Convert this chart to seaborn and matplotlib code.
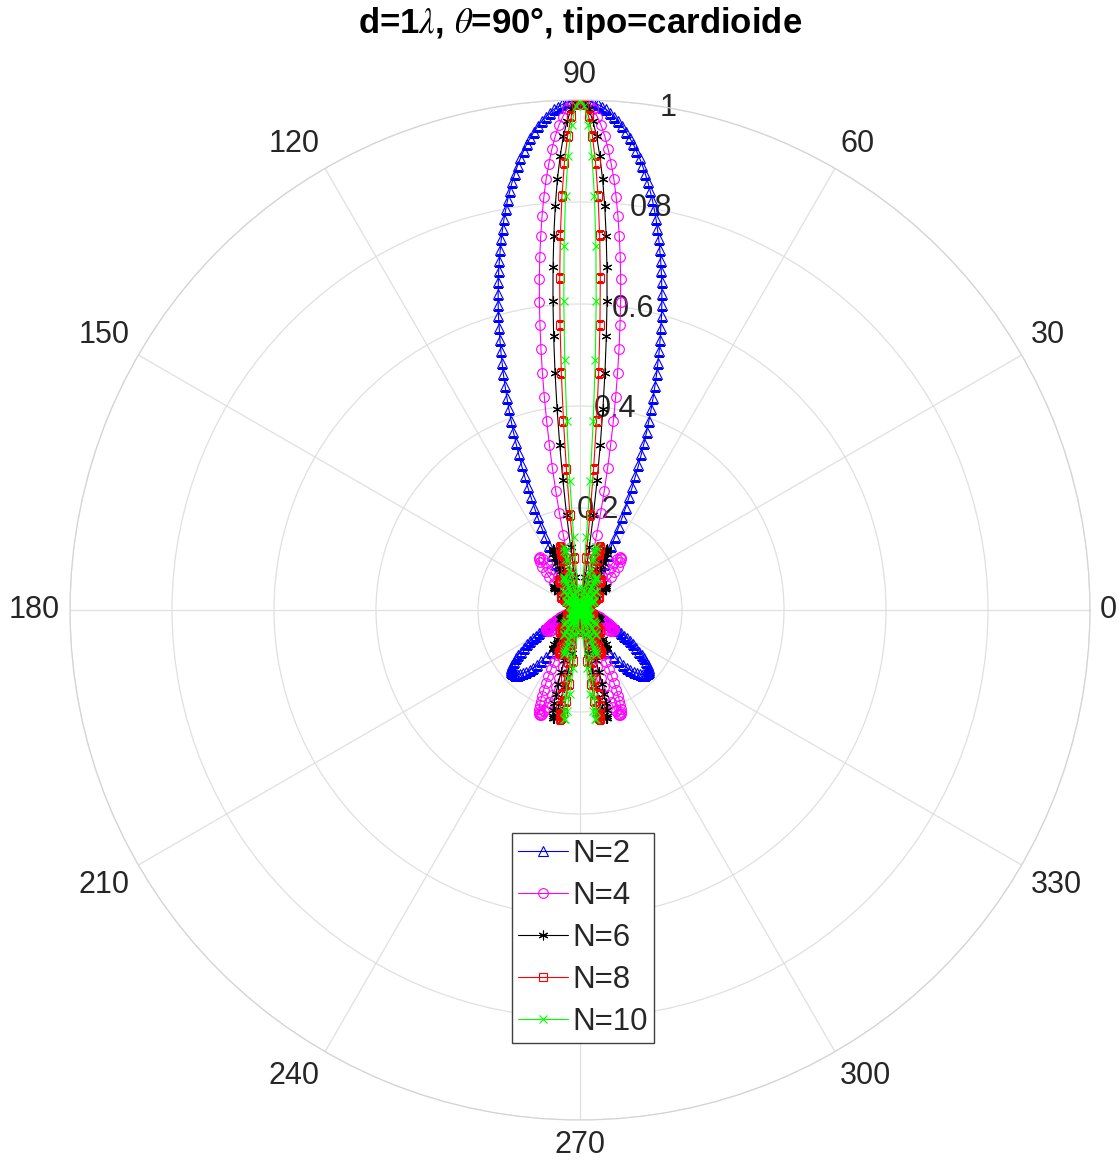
import numpy as np
import pandas as pd
import matplotlib
matplotlib.use("Agg")
import matplotlib.pyplot as plt
import seaborn as sns

sns.set_theme(style="white")
plt.rcParams["font.family"] = ["Liberation Sans", "DejaVu Sans"]
plt.rcParams["mathtext.fontset"] = "stix"

# ---------------- data ----------------
# sample angles (deg) of the right half, from the main-lobe direction (90) down to 0
ALPHA_DEG = [90.0, 89.5, 89.0, 88.5, 88.0, 87.5, 87.0, 86.5, 86.0, 85.5,
             85.0, 84.5, 84.0, 83.5, 83.0, 82.5, 82.0, 81.5, 81.0, 80.5,
             80.0, 79.5, 79.0, 78.5, 78.0, 77.5, 77.0, 76.5, 76.0, 75.5,
             75.0, 74.5, 74.0, 73.5, 73.0, 72.5, 72.0, 71.5, 71.0, 70.5,
             70.0, 69.5, 69.0, 68.5, 68.0, 67.5, 67.0, 66.5, 66.0, 65.5,
             65.0, 64.5, 64.0, 63.5, 63.0, 62.5, 62.0, 61.5, 61.0, 60.5,
             60.0,
             59, 58, 57, 56, 55, 54, 53, 52, 51, 50,
             49, 48, 47, 46, 45, 44, 43, 42, 41, 40,
             39, 38, 37, 36, 35, 34, 33, 32, 31, 30,
             29, 28, 27, 26, 25, 24, 23, 22, 21, 20,
             19, 18, 17, 16, 15, 14, 13, 12, 11, 10,
             9, 8, 7, 6, 5, 4, 3, 2, 1, 0]

# signed pattern values: positive -> drawn at the angle, negative -> drawn
# on the rear side (mirror below the 0-180 line); the figure is left/right symmetric
N2 = [1.000, 0.999, 0.998, 0.996, 0.992, 0.988, 0.983, 0.976, 0.969, 0.961,
      0.952, 0.942, 0.931, 0.920, 0.907, 0.894, 0.880, 0.865, 0.850, 0.833,
      0.817, 0.799, 0.781, 0.762, 0.743, 0.723, 0.703, 0.683, 0.662, 0.641,
      0.620, 0.598, 0.575, 0.553, 0.531, 0.508, 0.486, 0.463, 0.440, 0.418,
      0.395, 0.373, 0.350, 0.328, 0.306, 0.284, 0.263, 0.241, 0.220, 0.200,
      0.179, 0.159, 0.140, 0.121, 0.102, 0.084, 0.066, 0.049, 0.032, 0.016,
      0.000,
      -0.024, -0.046, -0.066, -0.084, -0.100, -0.114, -0.126, -0.137, -0.146, -0.154,
      -0.161, -0.167, -0.172, -0.176, -0.179, -0.181, -0.182, -0.181, -0.179, -0.176,
      -0.171, -0.165, -0.158, -0.150, -0.142, -0.133, -0.124, -0.116, -0.108, -0.100,
      -0.092, -0.084, -0.077, -0.070, -0.063, -0.057, -0.051, -0.045, -0.040, -0.035,
      -0.030, -0.026, -0.022, -0.019, -0.016, -0.013, -0.011, -0.009, -0.007, -0.005,
      -0.004, -0.003, -0.002, -0.001, -0.001, 0.0, 0.0, 0.0, 0.0, 0.0]

N4 = [1.000, 0.998, 0.992, 0.982, 0.968, 0.951, 0.930, 0.905, 0.877, 0.847,
      0.813, 0.776, 0.737, 0.697, 0.654, 0.610, 0.564, 0.518, 0.471, 0.424,
      0.377, 0.330, 0.284, 0.239, 0.194, 0.151, 0.110, 0.071, 0.034, -0.002,
      -0.034, -0.065, -0.092, -0.117, -0.140, -0.159, -0.176, -0.190, -0.201, -0.210,
      -0.216, -0.219, -0.220, -0.219, -0.216, -0.210, -0.203, -0.194, -0.184, -0.172,
      -0.158, -0.144, -0.129, -0.114, -0.098, -0.081, -0.065, -0.048, -0.032, -0.016,
      0.000,
      0.030, 0.056, 0.079, 0.098, 0.113, 0.123, 0.129, 0.130, 0.128, 0.122,
      0.113, 0.101, 0.088, 0.073, 0.057, 0.041, 0.025, 0.009, -0.006, -0.020,
      -0.032, -0.043, -0.053, -0.061, -0.067, -0.072, -0.075, -0.076, -0.077, -0.076,
      -0.074, -0.072, -0.068, -0.064, -0.060, -0.056, -0.051, -0.046, -0.041, -0.037,
      -0.032, -0.028, -0.024, -0.020, -0.017, -0.014, -0.011, -0.009, -0.007, -0.005,
      -0.004, -0.003, -0.002, -0.001, -0.001, 0.0, 0.0, 0.0, 0.0, 0.0]

N6 = [1.000, 0.996, 0.982, 0.960, 0.930, 0.891, 0.846, 0.794, 0.736, 0.674,
      0.608, 0.539, 0.468, 0.397, 0.326, 0.257, 0.189, 0.125, 0.065, 0.010,
      -0.040, -0.085, -0.123, -0.155, -0.180, -0.199, -0.211, -0.218, -0.218, -0.214,
      -0.204, -0.190, -0.172, -0.151, -0.128, -0.103, -0.077, -0.050, -0.024, 0.001,
      0.026, 0.048, 0.068, 0.086, 0.101, 0.113, 0.122, 0.128, 0.130, 0.130,
      0.127, 0.121, 0.113, 0.103, 0.091, 0.077, 0.063, 0.047, 0.032, 0.016,
      0.000,
      -0.029, -0.055, -0.074, -0.087, -0.093, -0.091, -0.084, -0.072, -0.055, -0.036,
      -0.016, 0.004, 0.022, 0.038, 0.051, 0.061, 0.066, 0.069, 0.067, 0.063,
      0.056, 0.048, 0.037, 0.027, 0.015, 0.005, -0.006, -0.015, -0.023, -0.029,
      -0.035, -0.039, -0.041, -0.042, -0.043, -0.042, -0.040, -0.038, -0.035, -0.032,
      -0.029, -0.026, -0.022, -0.019, -0.016, -0.014, -0.011, -0.009, -0.007, -0.005,
      -0.004, -0.003, -0.002, -0.001, -0.001, 0.0, 0.0, 0.0, 0.0, 0.0]

N8 = [1.000, 0.992, 0.968, 0.930, 0.877, 0.812, 0.736, 0.652, 0.561, 0.467,
      0.372, 0.278, 0.188, 0.103, 0.026, -0.042, -0.100, -0.147, -0.181, -0.205,
      -0.216, -0.217, -0.209, -0.192, -0.168, -0.138, -0.105, -0.069, -0.033, 0.002,
      0.034, 0.063, 0.088, 0.107, 0.120, 0.128, 0.130, 0.126, 0.117, 0.104,
      0.087, 0.067, 0.046, 0.023, 0.001, -0.020, -0.040, -0.057, -0.071, -0.082,
      -0.089, -0.093, -0.092, -0.089, -0.082, -0.072, -0.060, -0.046, -0.031, -0.016,
      0.000,
      0.029, 0.052, 0.067, 0.072, 0.068, 0.055, 0.037, 0.015, -0.007, -0.027,
      -0.043, -0.053, -0.058, -0.056, -0.049, -0.038, -0.024, -0.009, 0.006, 0.019,
      0.031, 0.039, 0.043, 0.045, 0.043, 0.039, 0.033, 0.025, 0.017, 0.009,
      0.000, -0.007, -0.014, -0.019, -0.023, -0.026, -0.028, -0.028, -0.028, -0.027,
      -0.025, -0.023, -0.020, -0.018, -0.015, -0.013, -0.011, -0.009, -0.007, -0.005,
      -0.004, -0.003, -0.002, -0.001, -0.001, 0.0, 0.0, 0.0, 0.0, 0.0]

N10 = [1.000, 0.988, 0.951, 0.891, 0.812, 0.715, 0.607, 0.491, 0.372, 0.254,
       0.144, 0.043, -0.043, -0.114, -0.166, -0.200, -0.216, -0.216, -0.200, -0.172,
       -0.136, -0.093, -0.048, -0.003, 0.038, 0.073, 0.101, 0.119, 0.128, 0.128,
       0.119, 0.103, 0.081, 0.055, 0.026, -0.002, -0.029, -0.053, -0.071, -0.084,
       -0.091, -0.092, -0.087, -0.077, -0.062, -0.044, -0.024, -0.003, 0.017, 0.035,
       0.050, 0.062, 0.069, 0.072, 0.071, 0.066, 0.057, 0.045, 0.032, 0.016,
       0.000,
       -0.029, -0.050, -0.059, -0.056, -0.042, -0.021, 0.003, 0.025, 0.041, 0.049,
       0.048, 0.039, 0.025, 0.008, -0.010, -0.025, -0.035, -0.041, -0.040, -0.035,
       -0.025, -0.014, -0.002, 0.010, 0.020, 0.027, 0.031, 0.032, 0.031, 0.027,
       0.021, 0.015, 0.008, 0.001, -0.005, -0.010, -0.015, -0.018, -0.019, -0.020,
       -0.020, -0.019, -0.018, -0.016, -0.014, -0.012, -0.010, -0.008, -0.006, -0.005,
       -0.004, -0.003, -0.002, -0.001, -0.001, 0.0, 0.0, 0.0, 0.0, 0.0]

SERIES = ["N=2", "N=4", "N=6", "N=8", "N=10"]
VALUES = [N2, N4, N6, N8, N10]
COLORS = ["#0000ff", "#ff00ff", "#000000", "#ff0000", "#00ff00"]
MARKERS = ["^", "o", (6, 2, 0), "s", "x"]
MSIZES = [6.5, 7.0, 7.0, 5.5, 5.5]

THETA_TICKS = [0, 30, 60, 90, 120, 150, 180, 210, 240, 270, 300, 330]
R_TICKS = [0.2, 0.4, 0.6, 0.8, 1.0]
R_LABELS = ["0.2", "0.4", "0.6", "0.8", "1"]
TITLE = r"d=1$\lambda$, $\theta$=90°, tipo=cardioide"

for v in VALUES:
    assert len(v) == len(ALPHA_DEG), len(v)

# ---------------- build closed curves ----------------
alpha = np.deg2rad(np.array(ALPHA_DEG, dtype=float))
frames = []
for name, vals in zip(SERIES, VALUES):
    g = np.array(vals, dtype=float)
    front = np.clip(g, 0, None)
    rear = np.clip(-g, 0, None)
    th = np.concatenate([alpha, -alpha[::-1], np.pi + alpha, np.pi - alpha[::-1]])
    rr = np.concatenate([front, rear[::-1], rear, front[::-1]])
    frames.append(pd.DataFrame({"theta": th, "r": rr, "series": name}))
df = pd.concat(frames, ignore_index=True)

# ---------------- figure ----------------
W, H = 1119, 1164
fig = plt.figure(figsize=(W / 100, H / 100), dpi=100)
cx, cy, R = 580, 610, 510
ax = fig.add_axes([(cx - R) / W, (H - cy - R) / H, 2 * R / W, 2 * R / H],
                  projection="polar")
ax.set_facecolor("white")
ax.set_axisbelow(True)

for name, col, mk, ms in zip(SERIES, COLORS, MARKERS, MSIZES):
    sub = df[df["series"] == name]
    sns.lineplot(data=sub, x="theta", y="r", ax=ax, sort=False, estimator=None,
                 color=col, marker=mk, markersize=ms, markerfacecolor="none",
                 markeredgecolor=col, markeredgewidth=0.8, linewidth=0.8,
                 label=name)

ax.set_ylim(0, 1)
ax.set_xticks(np.deg2rad(THETA_TICKS))
ax.set_xticklabels([])
ax.set_yticks(R_TICKS)
ax.set_yticklabels([])
ax.set_xlabel("")
ax.set_ylabel("")
ax.grid(True, color="#e0e0e0", linewidth=0.9)
ax.spines["polar"].set_color("#d4d4d4")
ax.spines["polar"].set_linewidth(0.9)
ax.tick_params(length=0)

lab_col = "#262626"
for t in THETA_TICKS:
    a = np.deg2rad(t)
    c, s = np.cos(a), np.sin(a)
    ha = "left" if c > 0.1 else ("right" if c < -0.1 else "center")
    va = "bottom" if s > 0.1 else ("top" if s < -0.1 else "center")
    ax.text(a, 1.02, str(t), ha=ha, va=va, fontsize=22, color=lab_col,
            clip_on=False)

for rv, rl in zip(R_TICKS, R_LABELS):
    ax.text(np.deg2rad(80), rv, rl, ha="center", va="center", fontsize=22,
            color=lab_col, zorder=1)

leg = ax.legend(loc="lower center", bbox_to_anchor=(0.503, 0.0755),
                fontsize=22.5, frameon=True, fancybox=False, framealpha=1,
                edgecolor="#404040", borderpad=0.2, handlelength=1.6,
                handletextpad=0.12, labelspacing=0.38, borderaxespad=0,
                numpoints=1)
leg.get_frame().set_linewidth(1.0)

fig.text(cx / W, 1 - 23 / H, TITLE, ha="center", va="center", fontsize=25,
         fontweight="bold", color="black")

fig.savefig("out.png", dpi=100)
